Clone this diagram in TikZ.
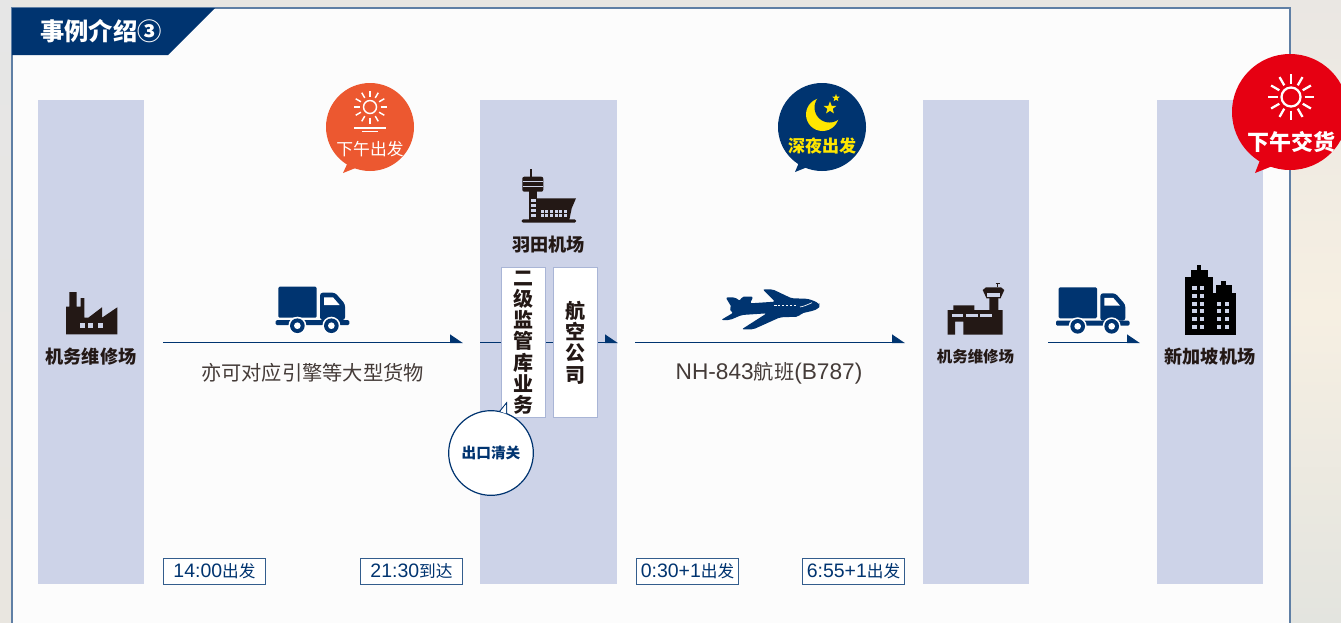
\documentclass[tikz,border=0pt]{standalone}
\usepackage{fontspec}
\setmainfont{Noto Sans CJK SC}
\newfontfamily\lat{Liberation Sans}
\usetikzlibrary{arrows.meta,shapes.geometric}
\definecolor{navy}{HTML}{003470}
\definecolor{band}{HTML}{CDD3E8}
\definecolor{ink}{HTML}{231815}
\definecolor{frameblue}{HTML}{5F7FA5}
\definecolor{boxedge}{HTML}{A9B5D6}
\definecolor{sunorange}{HTML}{EC5830}
\definecolor{sunred}{HTML}{E60012}
\definecolor{moon}{HTML}{FFE600}
\definecolor{bga}{HTML}{E8E6E2}
\definecolor{bgb}{HTML}{EAE7E3}
\definecolor{bgc}{HTML}{E3E4DF}
\definecolor{bgd}{HTML}{F6EFE2}
\definecolor{bge}{HTML}{E6E6E6}
\definecolor{bgf}{HTML}{E9E6E0}
\tikzset{
  bandbox/.style={fill=band,draw=none,minimum width=#1,minimum height=363pt,inner sep=0,anchor=north west},
  flow/.style={draw=navy,line width=.95pt,-{Triangle[left,length=9pt,width=12pt,fill=navy]}},
  place/.style={font=\fontsize{13.6}{15}\selectfont\bfseries,text=ink,inner sep=0},
  note/.style={font=\fontsize{15.2}{17}\selectfont,text=ink!85,inner sep=0},
  timebox/.style={draw=navy!80,line width=.7pt,fill=white,minimum width=76.5pt,minimum height=19.5pt,inner sep=0,anchor=north west,
     font=\fontsize{12.5}{14}\selectfont,text=navy},
  vbox/.style={draw=boxedge,line width=.8pt,fill=white,minimum width=33pt,minimum height=112.5pt,inner sep=0,anchor=north west,
     text width=33pt,align=center,font=\fontsize{15}{15.9}\selectfont\bfseries,text=ink},
  bubble/.style={circle,fill=#1,minimum size=66pt,inner sep=0},
  bubbletext/.style={inner sep=0,font=\fontsize{12.6}{14}\selectfont}
}
\newcommand\timetext[2]{{\lat\fontsize{14.6}{14}\selectfont #1}#2}
\newcommand\sunicon[7]{% x y ring r1 r2 color width
  \begin{scope}[shift={(#1,#2)}]
    \draw[#6,line width=#7] (0,0) circle (#3);
    \foreach \a in {0,30,...,330}{\draw[#6,line width=#7] (\a:#4) -- (\a:#5);}
  \end{scope}}
\newcommand\truckicon[2]{% in zoom units (1/3 px), origin top-left
  \begin{scope}[shift={(#1,#2)},x=.25pt,y=-.25pt]
    \fill[navy,rounded corners=1pt] (8,0) rectangle (123,93);
    \fill[navy,rounded corners=2pt] (133,18) -- (178,18) -- (208,52) -- (208,100) -- (133,100) -- cycle;
    \fill[white] (145,32) -- (172,32) -- (192,55) -- (145,55) -- cycle;
    \fill[navy,rounded corners=1pt] (0,100) rectangle (221,115);
    \foreach \w in {65,167}{
      \fill[white] (\w,117) circle (27);
      \fill[navy] (\w,117) circle (22);
      \fill[white] (\w,117) circle (10);
    }
  \end{scope}}
\begin{document}
\begin{tikzpicture}[x=.75pt,y=-.75pt]
\useasboundingbox (0,0) rectangle (1341,622);
% backdrop
\fill[bga] (0,0) rectangle (1341,622);
\fill[top color=bgb,bottom color=bgc,middle color=bgd] (1290,0) rectangle (1341,622);
\fill[top color=bge,bottom color=bgf] (0,0) rectangle (12,622);
% panel
\path[fill=white!99!black,draw=frameblue,line width=1pt] (12,8) rectangle (1290,640);
% title
\fill[navy] (12,8) -- (215,8) -- (168,55) -- (12,55) -- cycle;
\node[inner sep=0,text=white,font=\fontsize{18.2}{20}\selectfont\bfseries] (title) at (101,31) {事例介绍③};
% bands
\node[bandbox=79.5pt] (col1) at (38,100) {};
\node[bandbox=102.75pt] (col2) at (480,100) {};
\node[bandbox=79.5pt] (col3) at (923,100) {};
\node[bandbox=79.5pt] (col4) at (1157,100) {};
% connectors
\coordinate (a1) at (163,342.5); \coordinate (a2) at (463,342.5);
\coordinate (b1) at (480,342.5); \coordinate (b2) at (618,342.5);
\coordinate (c1) at (635,342.5); \coordinate (c2) at (905,342.5);
\coordinate (d1) at (1048,342.5); \coordinate (d2) at (1140,342.5);
\draw[flow] (a1) -- (a2);
\draw[flow] (b1) -- (b2);
\draw[flow] (c1) -- (c2);
\draw[flow] (d1) -- (d2);
% vertical boxes
\node[vbox] (bonded) at (501,267) {二\\级\\监\\管\\库\\业\\务};
\node[vbox] (airline) at (552.5,267) {航\\空\\公\\司};
% factory
\fill[ink] (66,334.3) -- (66,306.7) -- (69.3,306.7) -- (69.3,292) -- (76.7,292) -- (76.7,306.7) -- (80.7,306.7) -- (80.7,298) -- (84.3,298) -- (84.3,317.7) -- (88.3,317.7) -- (102,307.3) -- (102,317.7) -- (117.3,307.3) -- (117.3,334.3) -- cycle;
\foreach \x in {80,88.3,97.7}{\fill[band] (\x,323.3) rectangle +(5,5);}
\node[place] (mro1) at (91,357) {机务维修场};
% trucks
\truckicon{275.7}{286.7}
\truckicon{1056}{287.3}
\node[note] (cargo) at (312.5,373) {亦可对应引擎等大型货物};
% tower Haneda
\fill[ink] (530,169.3) rectangle (532.3,177);
\fill[ink,rounded corners=1.5pt] (522.3,176.7) rectangle (543.3,191.7);
\fill[band] (523,181) rectangle (543,182.4);
\fill[band] (523,185.5) rectangle (543,186.5);
\fill[ink] (529.3,191) rectangle (536.7,220);
\fill[ink] (536.7,198.3) -- (576,198.3) -- (571.7,208.3) -- (569.3,220) -- (536.7,220) -- cycle;
\fill[ink,rounded corners=1pt] (521.7,219.3) rectangle (576,222.7);
\foreach \y in {199,204,209,214}{\fill[band] (530.6,\y) rectangle (535.7,\y+3.2);}
\foreach \x in {540.5,545.2,549.9,554.6,559.3,564}{
  \fill[band] (\x,209.8) rectangle +(3,2.8);
  \fill[band] (\x,214.2) rectangle +(3,2.8);}
\node[place] (haneda) at (548.5,245) {羽田机场};
% plane
\begin{scope}[shift={(700,70)},x=.25pt,y=-.25pt]
\fill[navy,rounded corners=1.5pt] (358,705) .. controls (350,695) and (335,690) .. (320,686) -- (275,685) -- (218,658) -- (188,658) -- (225,695) -- (150,700) -- (160,680) -- (125,680) -- (120,693) -- (105,682) -- (77,682) -- (95,712) -- (88,720) -- (100,728) -- (63,750) -- (90,750) -- (125,735) -- (200,730) -- (125,778) -- (160,778) -- (240,742) -- (295,740) -- (305,730) -- (340,722) .. controls (350,718) and (358,712) .. (358,705) -- cycle;
\foreach \x in {222,233,245,257,269,281}{\fill[white] (\x,704) rectangle +(8,5);}
\draw[white,line width=.5pt] (300,711) .. controls (312,709) and (325,703) .. (336,698);
\end{scope}
\node[note] (flight) at (769,373) {{\lat\fontsize{17}{17}\selectfont NH-843}航班{\lat\fontsize{17}{17}\selectfont (B787)}};
% airport (right)
\fill[ink] (947.7,334.7) -- (947.7,310) -- (953.3,310) -- (953.3,305.3) -- (974.3,305.3) -- (974.3,310) -- (989.3,310) -- (989.3,298) -- (998.3,298) -- (998.3,310) -- (1002.7,310) -- (1002.7,334.7) -- (963.3,334.7) -- (963.3,321.7) -- (955,321.7) -- (955,334.7) -- cycle;
\fill[ink] (982.7,290) -- (986,287.3) -- (1001,287.3) -- (1004.3,290) -- (1000.5,298.3) -- (986.5,298.3) -- cycle;
\draw[ink,line width=.6pt] (997.7,287.3) -- (997.7,283.3) (995.5,283.3) -- (1000,283.3);
\fill[band] (987,292.8) rectangle (1000,297);
\foreach \x/\w in {952.3/11,966/11.7,980/12.3}{\fill[band] (\x,314) rectangle +(\w,3.3);}
\node[place,font=\fontsize{11.6}{13}\selectfont\bfseries] (mro2) at (975.5,357) {机务维修场};
% city
\fill[black] (1196.7,265) rectangle (1200.7,271);
\fill[black] (1190.7,270) rectangle (1207.7,278);
\fill[black] (1185,277.3) rectangle (1212.7,334.7);
\fill[black] (1221,280.7) rectangle (1226,286);
\fill[black] (1215.7,285) rectangle (1231.7,294);
\fill[black] (1212.7,293.3) rectangle (1235.7,334.7);
\foreach \y in {285.7,294,301.7,309.3,317.3,325}{
  \fill[band] (1192.3,\y) rectangle +(4.4,4);
  \fill[band] (1200,\y) rectangle +(4.4,4);}
\foreach \y in {301.7,309.3,317.3,325}{
  \fill[band] (1216.7,\y) rectangle +(4.4,4);
  \fill[band] (1225,\y) rectangle +(4.4,4);}
\node[place] (sin) at (1210,357) {新加坡机场};
% time boxes
\node[timebox] (t1) at (163,558) {\timetext{14:00}{出发}};
\node[timebox] (t2) at (360,558) {\timetext{21:30}{到达}};
\node[timebox] (t3) at (636,558) {\timetext{0:30+1}{出发}};
\node[timebox] (t4) at (802,558) {\timetext{6:55+1}{出发}};
% customs bubble
\fill[white,draw=navy,line width=.8pt] (500,411) -- (506.5,403) -- (506.5,413) -- cycle;
\node[circle,draw=navy,line width=.9pt,fill=white,minimum size=63.5pt,inner sep=0,
  font=\fontsize{11}{12}\selectfont\bfseries,text=navy] (customs) at (491,453) {出口清关};
\fill[white] (500.5,411.5) -- (506,404.5) -- (506,413.5) -- cycle;
% orange bubble
\fill[sunorange] (349,160) -- (343,173) -- (358,167) -- cycle;
\node[bubble=sunorange] (b-pm) at (370,127) {};
\sunicon{370}{107}{6.5}{10.5}{16.5}{white}{1.1pt}
\fill[white] (354,127) rectangle (386,128.8);
\fill[white] (362,131) rectangle (378,131.8);
\node[bubbletext,text=white] (t-pm) at (370,149) {下午出发};
% night bubble
\fill[navy] (800,160) -- (795,172) -- (810,166) -- cycle;
\node[bubble=navy] (b-night) at (822,127) {};
\fill[moon] (822.5,114.5) circle (16.5);
\fill[navy] (829.5,107.5) circle (15);
\node[star,star points=5,star point ratio=2.4,fill=moon,minimum size=10pt,inner sep=0] (s1) at (830,108) {};
\node[star,star points=5,star point ratio=2.4,fill=moon,minimum size=6pt,inner sep=0] (s2) at (836,98) {};
\node[bubbletext,text=moon,font=\fontsize{12.75}{14}\selectfont\bfseries] (t-night) at (822,146) {深夜出发};
% red bubble
\fill[sunred] (1262,155) -- (1255,173) -- (1275,165) -- cycle;
\node[circle,fill=sunred,minimum size=87pt,inner sep=0] (b-red) at (1290,112) {};
\sunicon{1291}{97}{9.5}{13.5}{23}{white}{1.7pt}
\node[inner sep=0,text=white,font=\fontsize{16.5}{18}\selectfont\bfseries] (t-red) at (1291,142) {下午交货};
\end{tikzpicture}
\end{document}
